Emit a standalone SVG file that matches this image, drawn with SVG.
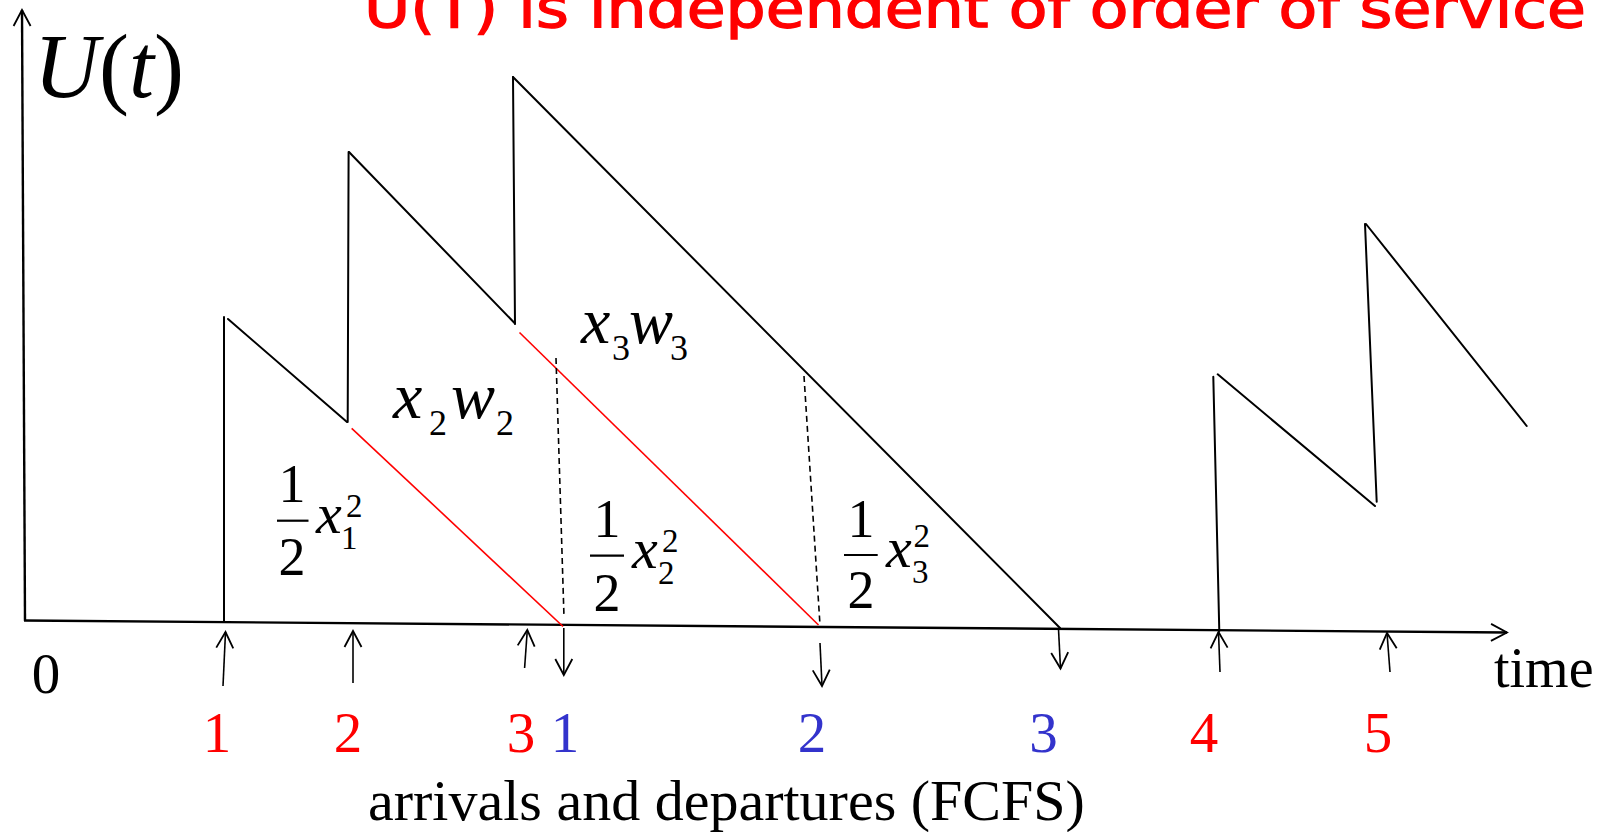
<svg xmlns="http://www.w3.org/2000/svg" width="1606" height="832" viewBox="0 0 1606 832">
<style>
.ln{stroke:#000;stroke-width:2;fill:none;stroke-linecap:round}
.ax{stroke:#000;stroke-width:2.4;fill:none}
.red{stroke:#FF0000;stroke-width:1.6;fill:none}
.dash{stroke:#000;stroke-width:1.6;fill:none;stroke-dasharray:6 4}
.arr{stroke:#000;stroke-width:1.6;fill:none}
.bar{stroke:#000;stroke-width:2.2}
.serif{font-family:"Liberation Serif","Times New Roman",serif;fill:#000}
.it{font-style:italic}
.num{font-family:"Liberation Serif","Times New Roman",serif;font-size:57px;text-anchor:middle}
.rd{fill:#FF0000}
.bl{fill:#3333CC}
.title{font-family:"Comic Sans MS","DejaVu Sans",sans-serif;font-size:50px;fill:#FF0000;stroke:#FF0000;stroke-width:1.2}
</style>
<defs>
<marker id="head" viewBox="-18 -10 20 20" refX="0" refY="0" markerWidth="20" markerHeight="20" markerUnits="userSpaceOnUse" orient="auto" overflow="visible">
<path d="M-16,-8.5 L0,0 L-16,8.5" fill="none" stroke="#000" stroke-width="1.8"/>
</marker>
</defs>

<g id="title" transform="translate(364,27) scale(1,1.12)">
<text class="title" x="0" y="0" textLength="1222" lengthAdjust="spacingAndGlyphs">U(T) is independent of order of service</text>
</g>

<g id="axes">
<line class="ax" x1="25" y1="621" x2="22" y2="10" marker-end="url(#head)"/>
<line class="ax" x1="24" y1="620.5" x2="1507" y2="632.5" marker-end="url(#head)"/>
</g>

<g id="workload">
<line class="ln" x1="224" y1="621" x2="224" y2="317"/>
<line class="ln" x1="228" y1="319" x2="347" y2="422"/>
<line class="ln" x1="347.7" y1="422" x2="348.6" y2="152"/>
<line class="ln" x1="349" y1="152" x2="515" y2="323.5"/>
<line class="ln" x1="515" y1="324" x2="513" y2="77"/>
<line class="ln" x1="513" y1="77" x2="1060" y2="628"/>
<line class="ln" x1="1219.3" y1="631" x2="1213.3" y2="376.7"/>
<line class="ln" x1="1217.7" y1="374.3" x2="1375" y2="506"/>
<line class="ln" x1="1376.7" y1="501.7" x2="1365" y2="224"/>
<line class="ln" x1="1366" y1="224" x2="1526.7" y2="426"/>
</g>

<g id="red-lines">
<line class="red" x1="351.7" y1="428.3" x2="563" y2="626.5"/>
<line class="red" x1="519.5" y1="332.5" x2="818.5" y2="625"/>
</g>

<g id="dashed-lines">
<line class="dash" x1="556" y1="358" x2="564" y2="617"/>
<line class="dash" x1="804" y1="376" x2="820" y2="625"/>
</g>

<g id="connectors">
<line class="arr" x1="223" y1="686" x2="225.5" y2="632" marker-end="url(#head)"/>
<line class="arr" x1="353" y1="683" x2="353" y2="631" marker-end="url(#head)"/>
<line class="arr" x1="524.6" y1="668" x2="527.3" y2="630" marker-end="url(#head)"/>
<line class="arr" x1="563.8" y1="628" x2="563.8" y2="675" marker-end="url(#head)"/>
<line class="arr" x1="820" y1="643" x2="822" y2="686" marker-end="url(#head)"/>
<line class="arr" x1="1058.5" y1="629" x2="1060.5" y2="668.5" marker-end="url(#head)"/>
<line class="arr" x1="1220" y1="672" x2="1218.5" y2="632" marker-end="url(#head)"/>
<line class="arr" x1="1390" y1="672" x2="1387" y2="633" marker-end="url(#head)"/>
</g>

<g id="label-Ut">
<text class="serif" x="34" y="97" font-size="90"><tspan class="it">U</tspan>(<tspan class="it">t</tspan>)</text>
</g>

<g id="label-x2w2">
<text class="serif"><tspan class="it" x="393" y="418" font-size="66">x</tspan><tspan x="429" y="435" font-size="36">2</tspan><tspan class="it" x="451" y="418" font-size="66">w</tspan><tspan x="496" y="435" font-size="36">2</tspan></text>
</g>

<g id="label-x3w3">
<text class="serif"><tspan class="it" x="581" y="343" font-size="66">x</tspan><tspan x="612" y="360" font-size="36">3</tspan><tspan class="it" x="629" y="343" font-size="66">w</tspan><tspan x="670" y="360" font-size="36">3</tspan></text>
</g>

<g id="label-half-x1sq">
<text class="serif" x="292" y="502" font-size="54" text-anchor="middle">1</text>
<line class="bar" x1="277" y1="520.7" x2="308.5" y2="520.7"/>
<text class="serif" x="292" y="575" font-size="54" text-anchor="middle">2</text>
<text class="serif"><tspan class="it" x="316" y="533" font-size="58">x</tspan><tspan x="346" y="517" font-size="33">2</tspan><tspan x="341" y="549" font-size="33">1</tspan></text>
</g>

<g id="label-half-x2sq">
<text class="serif" x="607" y="537" font-size="54" text-anchor="middle">1</text>
<line class="bar" x1="590" y1="555.7" x2="624" y2="555.7"/>
<text class="serif" x="607" y="611" font-size="54" text-anchor="middle">2</text>
<text class="serif"><tspan class="it" x="632" y="568" font-size="58">x</tspan><tspan x="662" y="552" font-size="33">2</tspan><tspan x="658" y="584" font-size="33">2</tspan></text>
</g>

<g id="label-half-x3sq">
<text class="serif" x="861" y="537" font-size="54" text-anchor="middle">1</text>
<line class="bar" x1="844" y1="555" x2="877.7" y2="555"/>
<text class="serif" x="861" y="608" font-size="54" text-anchor="middle">2</text>
<text class="serif"><tspan class="it" x="886" y="567" font-size="58">x</tspan><tspan x="913.5" y="547" font-size="33">2</tspan><tspan x="912" y="583" font-size="33">3</tspan></text>
</g>

<g id="axis-labels">
<text class="serif" x="46" y="693" font-size="57" text-anchor="middle">0</text>
<text class="serif" x="1494" y="687" font-size="56">time</text>
<text class="serif" x="368" y="820" font-size="58">arrivals and departures (FCFS)</text>
</g>

<g id="event-numbers">
<text class="num rd" x="217" y="752">1</text>
<text class="num rd" x="348" y="752">2</text>
<text class="num rd" x="521" y="752">3</text>
<text class="num bl" x="565" y="752">1</text>
<text class="num bl" x="812" y="752">2</text>
<text class="num bl" x="1043.5" y="752">3</text>
<text class="num rd" x="1204" y="752">4</text>
<text class="num rd" x="1378" y="752">5</text>
</g>
</svg>
